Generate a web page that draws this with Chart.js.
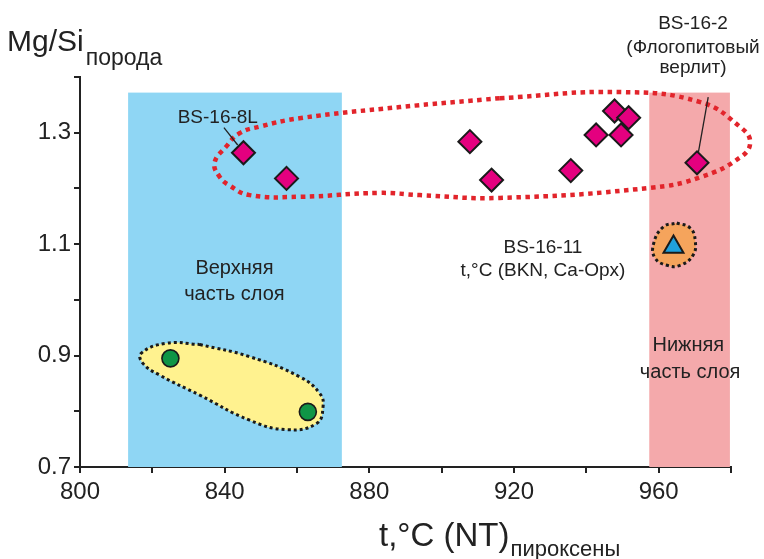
<!DOCTYPE html>
<html>
<head>
<meta charset="utf-8">
<script src="https://cdn.jsdelivr.net/npm/chart.js@4.4.1/dist/chart.umd.min.js"></script>
<style>
  html, body { margin: 0; padding: 0; background: #ffffff; }
  canvas { display: block; }
</style>
</head>
<body>
<canvas id="c" width="764" height="559"></canvas>
<script>
// ---------- data ----------
const xMin = 800, xMax = 980, xStep = 20, xLabelEvery = 40;
const yMin = 0.7, yMax = 1.4, yStep = 0.1;
const yLabelled = [0.7, 0.9, 1.1, 1.3];

// BS-16-11 and other pyroxenite samples (magenta diamonds)
const diamondT  = [845.2, 857.1, 907.8, 913.8, 935.7, 942.7, 947.8, 951.7, 949.6, 970.6];
const diamondMg = [1.264, 1.218, 1.284, 1.215, 1.232, 1.296, 1.339, 1.327, 1.296, 1.246];

// green circles
const circleT  = [825.0, 863.0];
const circleMg = [0.895, 0.799];

// blue triangle
const triT  = [964.1];
const triMg = [1.095];

// shaded zones: [tFrom, tTo, MgTop]
const zoneUpper = [813.3, 872.4, 1.372];
const zoneLower = [957.4, 979.7, 1.372];

// red dotted outline around the diamonds
const redLoopT  = [916.1, 949.3, 971.5, 982.6, 985.3, 982.6, 971.5, 957.6, 916.1, 894.0, 882.9, 860.7, 846.9, 841.4, 838.6, 837.2, 840.4, 844.1, 849.7, 860.7, 888.4, 916.1];
const redLoopMg = [1.362, 1.373, 1.355, 1.310, 1.283, 1.256, 1.220, 1.201, 1.183, 1.188, 1.192, 1.185, 1.188, 1.205, 1.221, 1.246, 1.275, 1.299, 1.311, 1.326, 1.346, 1.362];

// yellow blob around the green circles
const yellowT  = [833.1, 846.9, 860.7, 866.3, 867.2, 865.4, 857.1, 846.9, 833.1, 822.0, 817.4, 816.9, 823.8, 833.1];
const yellowMg = [0.920, 0.898, 0.862, 0.832, 0.808, 0.778, 0.767, 0.784, 0.829, 0.865, 0.886, 0.904, 0.922, 0.920];

// orange blob around the triangle
const orangeT  = [965.0, 968.7, 970.1, 969.5, 965.9, 962.3, 959.0, 958.6, 961.3, 965.0];
const orangeMg = [1.138, 1.129, 1.107, 1.080, 1.062, 1.062, 1.075, 1.101, 1.131, 1.138];

// leader lines
const leader8LT  = [839.8, 843.6];
const leader8LMg = [1.309, 1.278];
const leader2T   = [973.7, 970.6];
const leader2Mg  = [1.364, 1.251];

// text annotations (anchored in data coordinates)
const notes = [
  { t: 838.1, mg: 1.3264, text: 'BS-16-8L', size: 19 },
  { t: 969.5, mg: 1.4953, text: 'BS-16-2', size: 19 },
  { t: 969.5, mg: 1.4532, text: '(Флогопитовый', size: 19 },
  { t: 969.5, mg: 1.4163, text: 'верлит)', size: 19 },
  { t: 928.0, mg: 1.0943, text: 'BS-16-11', size: 19 },
  { t: 928.0, mg: 1.0530, text: 't,°C (BKN, Ca-Opx)', size: 19 },
  { t: 842.7, mg: 1.0565, text: 'Верхняя', size: 20 },
  { t: 842.7, mg: 1.0098, text: 'часть слоя', size: 20 },
  { t: 968.2, mg: 0.9185, text: 'Нижняя', size: 20 },
  { t: 968.7, mg: 0.8700, text: 'часть слоя', size: 20 }
];

const yTitleMain = 'Mg/Si', yTitleSub = 'порода';
const xTitleMain = 't,°C (NT)', xTitleSub = 'пироксены';

// ---------- helpers ----------
const FONT = "'Liberation Sans', Arial, sans-serif";
const TXT = '#222222';
const pts = (xs, ys) => xs.map((x, i) => ({ x: x, y: ys[i] }));

const bgPlugin = {
  id: 'bg',
  beforeDraw(chart) {
    const c = chart.ctx;
    c.save();
    c.fillStyle = '#ffffff';
    c.fillRect(0, 0, chart.width, chart.height);
    c.restore();
  },
  beforeDatasetsDraw(chart) {
    const c = chart.ctx, xs = chart.scales.x, ys = chart.scales.y;
    const drawZone = (z, col) => {
      const x0 = xs.getPixelForValue(z[0]), x1 = xs.getPixelForValue(z[1]);
      const y0 = ys.getPixelForValue(z[2]), y1 = ys.getPixelForValue(yMin);
      c.fillStyle = col;
      c.fillRect(x0, y0, x1 - x0, y1 - y0);
    };
    c.save();
    drawZone(zoneUpper, '#8fd6f4');
    drawZone(zoneLower, '#f4a9ab');
    c.restore();
  },
  afterDatasetsDraw(chart) {
    const c = chart.ctx, xs = chart.scales.x, ys = chart.scales.y;
    c.save();
    c.fillStyle = TXT;
    c.textAlign = 'center';
    c.textBaseline = 'middle';
    notes.forEach(n => {
      c.font = n.size + 'px ' + FONT;
      c.fillText(n.text, xs.getPixelForValue(n.t), ys.getPixelForValue(n.mg));
    });
    c.restore();
  },
  afterDraw(chart) {
    const c = chart.ctx, area = chart.chartArea;
    c.save();
    c.fillStyle = TXT;
    c.textAlign = 'left';
    c.textBaseline = 'alphabetic';
    // y title
    c.font = '30px ' + FONT;
    c.fillText(yTitleMain, 7, 51);
    const w1 = c.measureText(yTitleMain).width;
    c.font = '23px ' + FONT;
    c.fillText(yTitleSub, 7 + w1 + 2, 65);
    // x title
    c.font = '33px ' + FONT;
    const xl = 379;
    c.fillText(xTitleMain, xl, 546);
    const w2 = c.measureText(xTitleMain).width;
    c.font = '22px ' + FONT;
    c.fillText(xTitleSub, xl + w2 + 1, 556);
    c.restore();
  }
};

const lineDs = (data, color, width, dash, order, extra) => Object.assign({
  type: 'line', data: data, showLine: true, borderColor: color, borderWidth: width,
  borderDash: dash, borderCapStyle: 'butt', pointRadius: 0, pointHoverRadius: 0,
  tension: 0.45, fill: false, clip: false, order: order
}, extra || {});

new Chart(document.getElementById('c'), {
  type: 'scatter',
  data: {
    datasets: [
      { label: 'diamonds', data: pts(diamondT, diamondMg), pointStyle: 'rectRot', pointRadius: 11.5,
        backgroundColor: '#e4007f', borderColor: '#1a1a1a', borderWidth: 2, order: 0 },
      { label: 'circles', data: pts(circleT, circleMg), pointStyle: 'circle', pointRadius: 8.5,
        backgroundColor: '#0f9546', borderColor: '#1a1a1a', borderWidth: 1.6, order: 0 },
      { label: 'triangle', data: pts(triT, triMg), pointStyle: 'triangle', pointRadius: 11.5,
        backgroundColor: '#1fa0dc', borderColor: '#1a1a1a', borderWidth: 2, order: 0 },
      lineDs(pts(leader8LT, leader8LMg), '#222222', 1.3, [], 1, { tension: 0 }),
      lineDs(pts(leader2T, leader2Mg), '#222222', 1.3, [], 1, { tension: 0 }),
      lineDs(pts(redLoopT, redLoopMg), '#e2242b', 4.5, [4.5, 4.5], 2),
      lineDs(pts(yellowT, yellowMg), '#1a1a1a', 3, [3, 3], 3, { fill: 'shape', backgroundColor: '#fff28f' }),
      lineDs(pts(orangeT, orangeMg), '#1a1a1a', 3, [3, 3], 3, { fill: 'shape', backgroundColor: '#f5a45c' })
    ]
  },
  options: {
    responsive: false,
    animation: false,
    events: [],
    layout: { padding: { left: 0, right: 33, top: 77, bottom: 0 } },
    plugins: { legend: { display: false }, tooltip: { enabled: false } },
    scales: {
      x: {
        type: 'linear', min: xMin, max: xMax,
        ticks: {
          stepSize: xStep, autoSkip: false, maxRotation: 0, color: TXT, padding: 5,
          font: { family: FONT, size: 24 },
          callback: v => (Math.round(v) % xLabelEvery === 0 ? String(Math.round(v)) : '')
        },
        grid: { drawOnChartArea: false, drawTicks: true, tickLength: 6, color: '#222', lineWidth: 2 },
        border: { display: true, color: '#222', width: 2 },
        afterFit: s => { s.height = 92; }
      },
      y: {
        type: 'linear', min: yMin, max: yMax,
        ticks: {
          stepSize: yStep, autoSkip: false, color: TXT, padding: 3,
          font: { family: FONT, size: 24 },
          callback: v => (yLabelled.some(l => Math.abs(l - v) < 1e-6) ? v.toFixed(1) : '')
        },
        grid: { drawOnChartArea: false, drawTicks: true, tickLength: 6, color: '#222', lineWidth: 2 },
        border: { display: true, color: '#222', width: 2 },
        afterFit: s => { s.width = 80; }
      }
    }
  },
  plugins: [bgPlugin]
});
</script>
</body>
</html>
